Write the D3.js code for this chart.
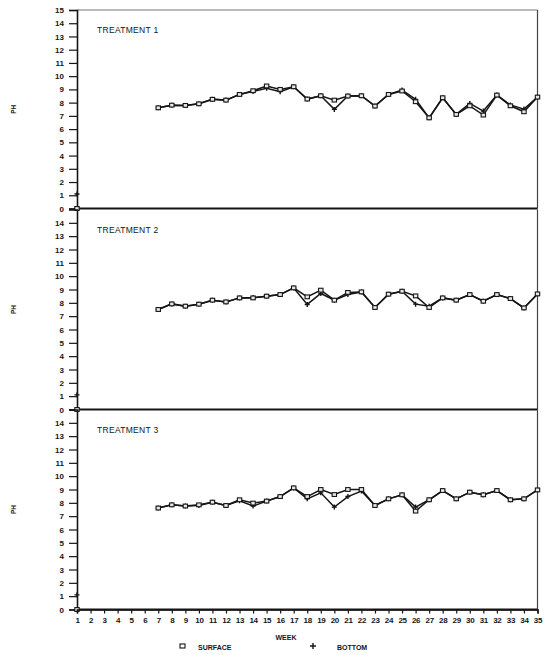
<!DOCTYPE html>
<html><head><meta charset="utf-8">
<script src="https://cdn.jsdelivr.net/npm/d3@7/dist/d3.min.js"></script>
<style>body{margin:0;background:#fff}svg{display:block}</style>
</head><body><svg id="c" width="550" height="655"></svg>
<script>
const weeks = d3.range(7, 36);
const weekTicks = d3.range(1, 36);
const yTicks = d3.range(0, 16);
const panelTitles = ["TREATMENT 1", "TREATMENT 2", "TREATMENT 3"];
// week-1 stray markers seen on each panel's axis
const week1Surface = [0, 0, 0];
const week1Bottom = [1.1, 1.1, 1.1];

const surface1 = [7.61,7.81,7.79,7.91,8.25,8.19,8.62,8.9,9.26,9.0,9.2,8.27,8.52,8.19,8.5,8.52,7.74,8.62,8.88,8.07,6.85,8.37,7.11,7.76,7.06,8.57,7.76,7.31,8.42];
const bottom1  = [7.61,7.81,7.79,7.91,8.25,8.19,8.62,8.85,9.08,8.83,9.2,8.27,8.52,7.49,8.5,8.52,7.74,8.62,8.95,8.25,6.85,8.37,7.11,7.94,7.36,8.57,7.83,7.51,8.42];
const surface2 = [7.5,7.92,7.75,7.9,8.2,8.07,8.37,8.37,8.5,8.62,9.12,8.45,8.95,8.2,8.78,8.82,7.65,8.65,8.87,8.52,7.65,8.37,8.2,8.62,8.12,8.62,8.32,7.62,8.67];
const bottom2  = [7.5,7.92,7.75,7.9,8.2,8.07,8.37,8.4,8.5,8.62,9.12,7.88,8.7,8.2,8.62,8.82,7.65,8.65,8.87,7.9,7.75,8.37,8.2,8.62,8.12,8.62,8.32,7.62,8.67];
const surface3 = [7.61,7.85,7.76,7.85,8.05,7.8,8.23,7.98,8.13,8.47,9.12,8.47,9.0,8.62,9.0,9.0,7.8,8.3,8.6,7.38,8.23,8.92,8.3,8.8,8.6,8.92,8.23,8.3,8.97];
const bottom3  = [7.61,7.85,7.76,7.8,8.05,7.8,8.15,7.76,8.13,8.47,9.12,8.3,8.75,7.68,8.47,8.88,7.8,8.3,8.6,7.68,8.23,8.92,8.3,8.8,8.6,8.92,8.23,8.3,8.97];

const surfaces = [surface1, surface2, surface3];
const bottoms = [bottom1, bottom2, bottom3];

const svg = d3.select("#c");
const ink = "#151515";
const left = 77, right = 537.5;
const tops = [10, 209.5, 409.5];
const panelH = 200;
const font = "'Liberation Sans', Arial, sans-serif";

const x = d3.scaleLinear().domain([1, 35]).range([left, right]);

tops.forEach((top, i) => {
  const y = d3.scaleLinear().domain([0, 15]).range([top + panelH - (i === 0 ? 1.5 : 0), top]);
  const g = svg.append("g");
  // frame
  if (i === 0) {
    g.append("line").attr("x1", left).attr("x2", right).attr("y1", top).attr("y2", top)
      .attr("stroke", "#777").attr("stroke-width", 1);
  }
  g.append("line").attr("x1", right).attr("x2", right).attr("y1", top).attr("y2", y(0))
    .attr("stroke", "#444").attr("stroke-width", 1.2);
  g.append("line").attr("x1", left).attr("x2", right).attr("y1", y(0)).attr("y2", y(0))
    .attr("stroke", ink).attr("stroke-width", 1.8);
  // y axis
  const ticks = i === 0 ? yTicks : yTicks.filter(t => t < 15);
  const ax = g.append("g").attr("transform", `translate(${left},0)`)
    .call(d3.axisLeft(y).tickValues(ticks).tickSize(8).tickPadding(5).tickFormat(d3.format("d")));
  ax.select(".domain").attr("stroke", ink).attr("stroke-width", 1.6);
  ax.selectAll(".tick line").attr("stroke", ink).attr("stroke-width", 1.2);
  ax.selectAll(".tick text").attr("font-family", font).attr("font-size", 8)
    .attr("font-weight", "bold").attr("fill", ink);
  // PH label
  g.append("text").attr("transform", `translate(16,${y(7.5)}) rotate(-90)`)
    .attr("text-anchor", "middle").attr("font-family", font).attr("font-size", 6.5)
    .attr("font-weight", "bold").attr("fill", ink).text("PH");
  // title
  g.append("text").attr("x", 97).attr("y", top + 23).attr("font-family", font)
    .attr("font-size", 8.5).attr("fill", ink).attr("letter-spacing", 0.3).text(panelTitles[i]);

  const sData = weeks.map((w, k) => ({w, v: surfaces[i][k]}));
  const bData = weeks.map((w, k) => ({w, v: bottoms[i][k]}));
  const line = d3.line().x(d => x(d.w)).y(d => y(d.v));
  g.append("path").datum(bData).attr("d", line).attr("fill", "none")
    .attr("stroke", ink).attr("stroke-width", 1.5);
  g.append("path").datum(sData).attr("d", line).attr("fill", "none")
    .attr("stroke", ink).attr("stroke-width", 1.5);
  // bottom markers (+)
  const allB = bData.concat([{w: 1, v: week1Bottom[i]}, {w: 1, v: week1Surface[i]}]);
  g.selectAll(".bp").data(allB).enter().append("path")
    .attr("d", d => `M${x(d.w)-2.5},${y(d.v)}h5M${x(d.w)},${y(d.v)-2.5}v5`)
    .attr("stroke", ink).attr("stroke-width", 1.4);
  // surface markers (hollow squares)
  const allS = sData.concat([{w: 1, v: week1Surface[i]}]);
  g.selectAll(".sp").data(allS).enter().append("rect")
    .attr("x", d => x(d.w) - 2.2).attr("y", d => y(d.v) - 1.9)
    .attr("width", 4.4).attr("height", 3.8).attr("fill", "#e8e8e8")
    .attr("stroke", ink).attr("stroke-width", 1.1);

  if (i === 2) {
    const xa = g.append("g").attr("transform", `translate(0,${y(0)})`)
      .call(d3.axisBottom(x).tickValues(weekTicks).tickSize(4).tickPadding(4).tickFormat(d3.format("d")));
    xa.select(".domain").attr("stroke", ink).attr("stroke-width", 1.6);
    xa.selectAll(".tick line").attr("stroke", ink).attr("stroke-width", 1.2);
    xa.selectAll(".tick text").attr("font-family", font).attr("font-size", 8)
      .attr("font-weight", "bold").attr("fill", ink).attr("letter-spacing", -0.3);
  }
});

// axis title & legend
svg.append("text").attr("x", 286).attr("y", 640).attr("text-anchor", "middle")
  .attr("font-family", font).attr("font-size", 7).attr("font-weight", "bold").attr("fill", ink).text("WEEK");
svg.append("rect").attr("x", 180).attr("y", 644).attr("width", 5).attr("height", 4)
  .attr("fill", "#fff").attr("stroke", ink).attr("stroke-width", 1.1);
svg.append("text").attr("x", 198).attr("y", 650).attr("font-family", font).attr("font-size", 7)
  .attr("font-weight", "bold").attr("fill", ink).text("SURFACE");
svg.append("path").attr("d", "M310,646h6M313,643v6").attr("stroke", ink).attr("stroke-width", 1.4);
svg.append("text").attr("x", 337).attr("y", 650).attr("font-family", font).attr("font-size", 7)
  .attr("font-weight", "bold").attr("fill", ink).text("BOTTOM");
</script></body></html>
